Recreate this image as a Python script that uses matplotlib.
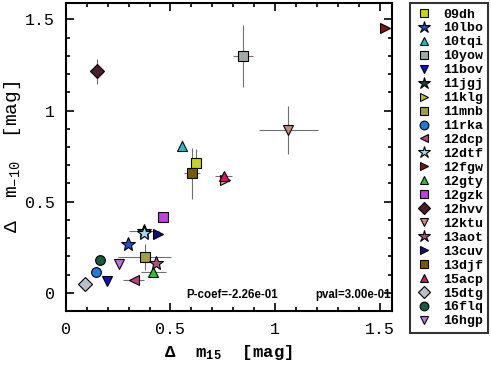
import matplotlib.pyplot as plt
from matplotlib.ticker import MultipleLocator

names = ['09dh', '10lbo', '10tqi', '10yow', '11bov', '11jgj', '11klg', '11mnb',
         '11rka', '12dcp', '12dtf', '12fgw', '12gty', '12gzk', '12hvv', '12ktu',
         '13aot', '13cuv', '13djf', '15acp', '15dtg', '16flq', '16hgp']
dm15 = [0.624, 0.298, 0.554, 0.846, 0.195, 0.373, 0.759, 0.376,
        0.145, 0.325, 0.373, 1.524, 0.418, 0.463, 0.148, 1.063,
        0.433, 0.441, 0.603, 0.754, 0.092, 0.162, 0.254]
dm15_err = [0.0, 0.0, 0.0, 0.047, 0.0, 0.07, 0.0, 0.126,
            0.0, 0.05, 0.0, 0.0, 0.06, 0.0, 0.0, 0.14,
            0.0, 0.0, 0.04, 0.04, 0.0, 0.0, 0.0]
dm10 = [0.711, 0.266, 0.808, 1.297, 0.064, 0.339, 0.620, 0.195,
        0.112, 0.070, 0.330, 1.454, 0.112, 0.418, 1.215, 0.894,
        0.161, 0.323, 0.656, 0.640, 0.048, 0.178, 0.156]
dm10_err = [0.08, 0.0, 0.03, 0.17, 0.0, 0.03, 0.0, 0.07,
            0.0, 0.0, 0.0, 0.0, 0.0, 0.0, 0.07, 0.13,
            0.0, 0.0, 0.14, 0.0, 0.0, 0.0, 0.0]
markers = ['s', '*', '^', 's', 'v', '*', '>', 's',
           'o', '<', '*', '>', '^', 's', 'D', 'v',
           '*', '>', 's', '^', 'D', 'o', 'v']
colors = ['#c6d41a', '#1f4fd0', '#1fbfd0', '#a0aaa8', '#1010d0', '#0f4a3a', '#b8c020', '#a0a040',
          '#1e7be0', '#c0407a', '#a0d8f0', '#8a1010', '#30c030', '#c040e0', '#4a2030', '#c88878',
          '#b05080', '#101080', '#7a5a00', '#e0106a', '#b8c0c8', '#1a5a40', '#c070e0']
pcoef = -2.26e-01
pval = 3.00e-01

mono = 'Liberation Mono'
plt.rcParams['mathtext.fontset'] = 'custom'
plt.rcParams['mathtext.rm'] = mono
plt.rcParams['mathtext.it'] = mono
plt.rcParams['mathtext.bf'] = mono + ':bold'

fig = plt.figure(figsize=(4.91, 3.72), dpi=100)
ax = fig.add_axes([0.134, 0.164, 0.664, 0.828])

for i, name in enumerate(names):
    if dm15_err[i] > 0 or dm10_err[i] > 0:
        ax.errorbar(dm15[i], dm10[i], xerr=dm15_err[i], yerr=dm10_err[i],
                    fmt='none', ecolor='#707070', elinewidth=0.8, capsize=0, zorder=1)
    size = 10 if markers[i] == '*' else 7
    ax.plot(dm15[i], dm10[i], linestyle='none', marker=markers[i], color=colors[i],
            markeredgecolor='black', markeredgewidth=0.8, markersize=size,
            label=name, zorder=2)

ax.set_xlim(0, 1.557)
ax.set_ylim(-0.1, 1.59)
ax.xaxis.set_minor_locator(MultipleLocator(0.1))
ax.yaxis.set_minor_locator(MultipleLocator(0.1))
ax.set_xticks([0, 0.5, 1, 1.5])
ax.set_xticklabels(['0', '0.5', '1', '1.5'])
ax.set_yticks([0, 0.5, 1, 1.5])
ax.set_yticklabels(['0', '0.5', '1', '1.5'])
ax.tick_params(which='both', direction='in', top=True, right=True, width=1.2)
ax.tick_params(which='major', length=6, labelsize=12, pad=8)
ax.tick_params(which='minor', length=3)
for lab in ax.get_xticklabels() + ax.get_yticklabels():
    lab.set_family(mono)
for s in ax.spines.values():
    s.set_linewidth(1.5)

ax.set_xlabel('\u0394  m$_{\\mathbf{15}}$  [mag]', fontsize=12.5, family=mono,
              fontweight='bold', labelpad=4)
ax.set_ylabel('\u0394  m$_{-10}$  [mag]', fontsize=14, family=mono)
ax.yaxis.set_label_coords(-0.13, 0.5)

ax.text(0.576, -0.03, 'P-coef=%.2e' % pcoef, fontsize=8.3, fontweight='bold',
        family='Liberation Sans')
ax.text(1.19, -0.03, 'pval=%.2e' % pval, fontsize=8.3, fontweight='bold',
        family='Liberation Sans')

leg = fig.legend(loc='upper left', bbox_to_anchor=(410 / 491, 1 - 3 / 372),
                 borderaxespad=0, frameon=True, fancybox=False, edgecolor='black',
                 handlelength=1.3, handletextpad=0.8, labelspacing=0.13, borderpad=0.4,
                 markerscale=0.9, prop={'family': mono, 'weight': 'bold', 'size': 9.5})
leg.get_frame().set_linewidth(1.5)

fig.savefig('out.png', dpi=100)
